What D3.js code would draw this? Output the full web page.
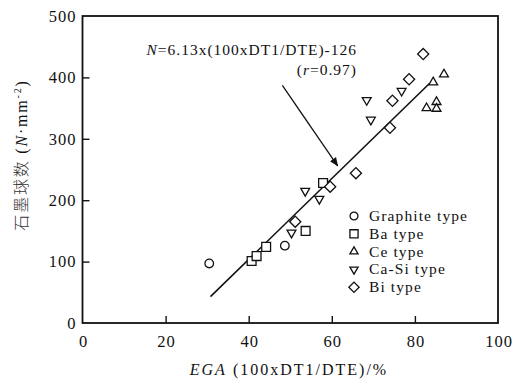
<!DOCTYPE html>
<html>
<head>
<meta charset="utf-8">
<script src="https://cdn.jsdelivr.net/npm/d3@7/dist/d3.min.js"></script>
<style>
  html, body { margin: 0; padding: 0; background: #fff; }
  svg { display: block; }
  text { font-family: "Liberation Serif", "DejaVu Serif", serif; fill: #111; }
</style>
</head>
<body>
<svg id="chart" width="519" height="381"></svg>
<script>
// ---- data ----
const xTicks = [0, 20, 40, 60, 80, 100];
const yTicks = [0, 100, 200, 300, 400, 500];

const graphiteX = [30.5, 48.7];
const graphiteY = [97, 126];

const baX = [40.7, 41.9, 44.2, 53.7, 57.9];
const baY = [101, 109, 124, 150, 228];

const ceX = [82.8, 84.4, 85.2, 85.2, 87.0];
const ceY = [350, 392, 360, 349, 405];

const caSiX = [50.3, 53.6, 57.0, 68.4, 69.4, 76.8];
const caSiY = [147, 215, 202, 363, 331, 378];

const biX = [51.2, 59.6, 65.8, 74.0, 74.6, 78.6, 82.0];
const biY = [165, 222, 244, 318, 362, 397, 438];

// fitted line end points
const fitX = [30.8, 83.5];
const fitY = [43, 390];

// arrow (data units): from, to
const arrowX = [48.1, 61.4];
const arrowY = [387, 256];

const seriesNames = ["Graphite type", "Ba type", "Ce type", "Ca-Si type", "Bi type"];

(function () {
// ---- layout ----
const svg = d3.select("#chart");
const mLeft = 82.5, mRight = 498, mTop = 16, mBottom = 323;

const x = d3.scaleLinear().domain([0, 100]).range([mLeft, mRight]);
const y = d3.scaleLinear().domain([0, 500]).range([mBottom, mTop]);

// frame
svg.append("rect")
  .attr("x", mLeft).attr("y", mTop)
  .attr("width", mRight - mLeft).attr("height", mBottom - mTop)
  .attr("fill", "none").attr("stroke", "#111").attr("stroke-width", 1.8);

// axes
const xAxis = d3.axisBottom(x).tickValues(xTicks).tickSizeInner(-7).tickSizeOuter(0).tickPadding(12);
const yAxis = d3.axisLeft(y).tickValues(yTicks).tickSizeInner(-7).tickSizeOuter(0).tickPadding(6);

const gx = svg.append("g").attr("transform", `translate(0,${mBottom})`).call(xAxis);
const gy = svg.append("g").attr("transform", `translate(${mLeft},0)`).call(yAxis);
[gx, gy].forEach(g => {
  g.select(".domain").remove();
  g.selectAll(".tick line").attr("stroke", "#111").attr("stroke-width", 1.4);
  g.selectAll(".tick text")
    .attr("fill", "#111")
    .style("font-family", '"Liberation Serif", serif')
    .style("font-size", "16.5px")
    .style("letter-spacing", "1px");
});
gx.selectAll(".tick line").filter(d => d === 0 || d === 100).remove();
gy.selectAll(".tick line").filter(d => d === 0 || d === 500).remove();
gx.selectAll(".tick text").attr("dx", "0.5px");

// axis titles
const xt = svg.append("text")
  .attr("x", 289).attr("y", 375)
  .attr("text-anchor", "middle")
  .style("font-size", "16px")
  .style("letter-spacing", "2px");
xt.append("tspan").style("font-style", "italic").text("EGA");
xt.append("tspan").text(" (100xDT1/DTE)/%");

const yt = svg.append("text")
  .attr("transform", "translate(27,155) rotate(-90)")
  .attr("text-anchor", "middle")
  .style("font-size", "16px")
  .style("letter-spacing", "1.8px");
yt.append("tspan").style("font-family", '"Noto Sans CJK SC", sans-serif').style("font-weight", 300).attr("fill", "#333").text("石墨球数");
yt.append("tspan").text(" (");
yt.append("tspan").style("font-style", "italic").text("N");
yt.append("tspan").text("·mm");
yt.append("tspan").attr("dy", "-6").style("font-size", "10px").text("-2");
yt.append("tspan").attr("dy", "6").text(")");

// fitted line
svg.append("line")
  .attr("x1", x(fitX[0])).attr("y1", y(fitY[0]))
  .attr("x2", x(fitX[1])).attr("y2", y(fitY[1]))
  .attr("stroke", "#111").attr("stroke-width", 1.6);

// arrow
svg.append("defs").append("marker")
  .attr("id", "ah").attr("viewBox", "0 0 10 10")
  .attr("refX", 9).attr("refY", 5)
  .attr("markerWidth", 9).attr("markerHeight", 9)
  .attr("markerUnits", "userSpaceOnUse")
  .attr("orient", "auto")
  .append("path").attr("d", "M0,1 L10,5 L0,9 Z").attr("fill", "#111");
svg.append("line")
  .attr("x1", x(arrowX[0])).attr("y1", y(arrowY[0]))
  .attr("x2", x(arrowX[1])).attr("y2", y(arrowY[1]))
  .attr("stroke", "#111").attr("stroke-width", 1.3)
  .attr("marker-end", "url(#ah)");

// equation annotation
const eq = svg.append("text")
  .attr("x", 357).attr("y", 55)
  .attr("text-anchor", "end")
  .style("font-size", "15.5px")
  .style("letter-spacing", "1px");
eq.append("tspan").style("font-style", "italic").text("N");
eq.append("tspan").text("=6.13x(100xDT1/DTE)-126");

const rr = svg.append("text")
  .attr("x", 357).attr("y", 75)
  .attr("text-anchor", "end")
  .style("font-size", "15.5px")
  .style("letter-spacing", "1px");
rr.append("tspan").text("(");
rr.append("tspan").style("font-style", "italic").text("r");
rr.append("tspan").text("=0.97)");

// markers
const symDefs = [
  { type: d3.symbolCircle, size: 58, rot: 0 },
  { type: d3.symbolSquare, size: 78, rot: 0 },
  { type: d3.symbolTriangle, size: 34, rot: 0 },
  { type: d3.symbolTriangle, size: 34, rot: 180 },
  { type: d3.symbolSquare, size: 62, rot: 45 }
];
const seriesX = [graphiteX, baX, ceX, caSiX, biX];
const seriesY = [graphiteY, baY, ceY, caSiY, biY];

seriesX.forEach((xs, i) => {
  const s = symDefs[i];
  const path = d3.symbol().type(s.type).size(s.size)();
  svg.append("g").selectAll("path")
    .data(xs.map((v, j) => [v, seriesY[i][j]]))
    .join("path")
    .attr("d", path)
    .attr("transform", d => `translate(${x(d[0])},${y(d[1])}) rotate(${s.rot})`)
    .attr("fill", "#fff")
    .attr("stroke", "#111")
    .attr("stroke-width", 1.3);
});

// legend
const lg = svg.append("g");
seriesNames.forEach((name, i) => {
  const s = symDefs[i];
  const ly = 216 + i * 17.8;
  lg.append("path")
    .attr("d", d3.symbol().type(s.type).size(s.size * 0.85)())
    .attr("transform", `translate(354,${ly}) rotate(${s.rot})`)
    .attr("fill", "#fff").attr("stroke", "#111").attr("stroke-width", 1.3);
  lg.append("text")
    .attr("x", 369).attr("y", ly + 5)
    .style("font-size", "15.5px")
    .style("letter-spacing", "1.1px")
    .text(name);
});
})();
</script>
</body>
</html>
